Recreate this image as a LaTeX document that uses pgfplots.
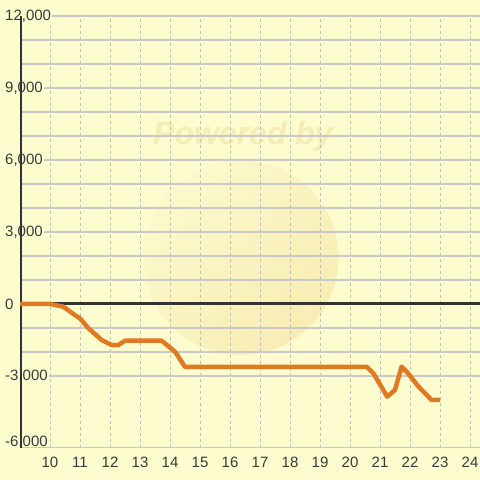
\documentclass[border=0pt]{standalone}
\usepackage{pgfplots}
\pgfplotsset{compat=1.18}
\usepackage{fontspec}
\setmainfont{Liberation Sans}
\definecolor{bg}{HTML}{FCFCCE}
\definecolor{wm}{HTML}{F5EDB6}
\definecolor{circA}{HTML}{FBF9CC}
\definecolor{circB}{HTML}{F8EDB4}
\definecolor{hgrid}{HTML}{C8C8C8}
\definecolor{vgrid}{HTML}{BDBDBD}
\definecolor{axisdark}{HTML}{333333}
\definecolor{lbl}{HTML}{3A3A3A}
\definecolor{lineorange}{HTML}{E07A22}
\begin{document}
\begin{tikzpicture}[x=1bp,y=1bp]
\fill[bg] (0,0) rectangle (480,480);
\useasboundingbox (0,0) rectangle (480,480);
\shade[top color=circA, bottom color=circB, shading angle=45] (241,222.5) circle (97.5);
\node[font=\bfseries\itshape\fontsize{32bp}{36bp}\selectfont, text=wm] at (243,344) {Powered by};
\begin{axis}[
  at={(20bp,32bp)}, anchor=south west,
  scale only axis, width=460bp, height=432bp,
  xmin=9, xmax=24.3333, ymin=-6000, ymax=12000,
  axis line style={draw=none},
  major tick length=0pt, minor tick length=0pt,
  scaled y ticks=false, scaled x ticks=false,
  xtick={10,11,...,24},
  ytick={-3000,0,3000,6000,9000,12000},
  extra y ticks={-6000},
  extra y tick style={yticklabel style={yshift=6bp}, grid=none},
  minor y tick num=2,
  ymajorgrids, yminorgrids, xmajorgrids,
  grid style={draw=hgrid, line width=1.1bp},
  x grid style={draw=vgrid, line width=1bp, dash pattern=on 3bp off 3bp},
  /pgf/number format/.cd, 1000 sep={,}, assume math mode=true,
  /pgfplots/.cd,
  tick label style={font=\fontsize{15bp}{17bp}\selectfont, text=lbl},
  yticklabel style={anchor=west, xshift=-16bp, fill=bg, inner sep=1bp},
  xticklabel style={anchor=center, yshift=-14bp},
]
\draw[hgrid, line width=1.1bp] (axis cs:9,-6000) -- (axis cs:24.3333,-6000);
\draw[axisdark, line width=3bp] (axis cs:9,-6000) -- (axis cs:9,12000);
\draw[axisdark, line width=3bp] (axis cs:9,0) -- (axis cs:24.3333,0);
\addplot[lineorange, line width=4.5bp, line join=round] coordinates {
(9,0) (10,0) (10.44,-110) (10.83,-460) (11,-600) (11.28,-1010) (11.72,-1500)
(12.06,-1710) (12.28,-1710) (12.5,-1530) (13.72,-1530) (14.17,-1990) (14.5,-2620)
(20.56,-2620) (20.78,-2890) (21.24,-3860) (21.5,-3580) (21.72,-2610) (21.94,-2890)
(22.28,-3440) (22.72,-4000) (23.0,-4000)
};
\end{axis}
\end{tikzpicture}
\end{document}
